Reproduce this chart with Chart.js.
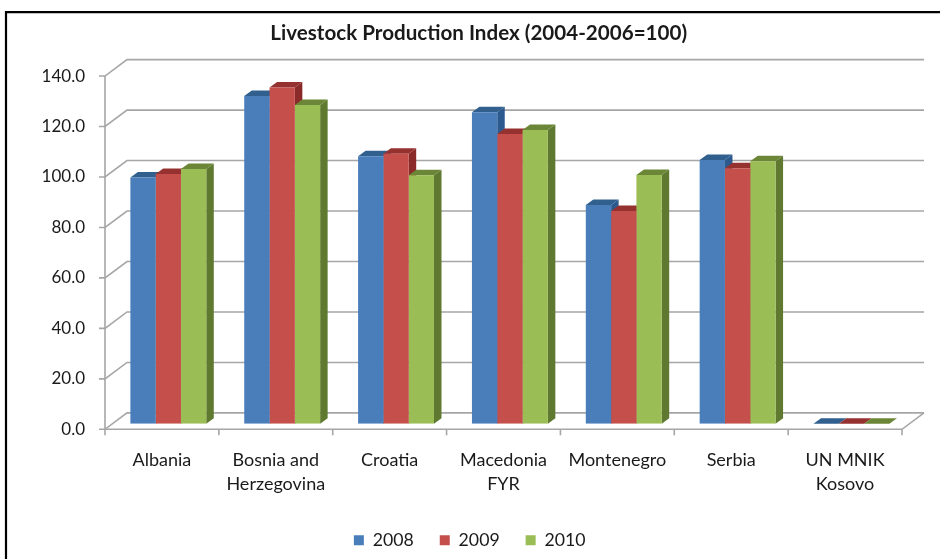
<!DOCTYPE html>
<html><head><meta charset="utf-8">
<style>html,body{margin:0;padding:0;background:#fff}#w{width:940px;height:559px;position:relative}canvas{display:block}</style>
<script src="https://cdn.jsdelivr.net/npm/chart.js@4/dist/chart.umd.min.js"></script>
</head><body><div id="w"><canvas id="c" width="940" height="559"></canvas></div>
<script>
const categories = ["Albania", ["Bosnia and","Herzegovina"], "Croatia", ["Macedonia","FYR"], "Montenegro", "Serbia", ["UN MNIK","Kosovo"]];
const years = ["2008","2009","2010"];
const s2008 = [97.6,129.9,106,123.5,86.7,104.5,0];
const s2009 = [99,133.3,107,114.8,84.3,101.3,0];
const s2010 = [101,126.3,98.5,116.4,98.6,104,0];
const frontColors = ["#4a7ebb","#c44f4b","#9bbd55"];
const sideColors = ["#2c5a8f","#8a2b29","#5f7a30"];
const topColors = ["#31608f","#953230","#6b8636"];
const yMax = 140, yStep = 20;
const FONT = "Lato, Carlito, Calibri, sans-serif";
const TXT = "#1a1a1a", AXIS = "#a6a6a6";
// depth geometry in pixels
const BAR_DX = 7.5, BAR_DY = 5.5, FRONT_DX = 6.4, FRONT_DY = 5.5, WALL_DX = 22, WALL_DY = 16.4;

const scene = {
  id: "scene",
  afterLayout(ch){
    // the plot sits off-centre, title and legend are centred on the picture's frame
    ch.titleBlock.left += 24.5; ch.titleBlock.right += 24.5;
    ch.legend.left += 15.5; ch.legend.right += 15.5;
  },
  beforeDatasetsDraw(ch){
    const g = ch.ctx, xs = ch.scales.x, ys = ch.scales.y;
    g.save();
    // picture frame
    g.strokeStyle = "#000"; g.lineWidth = 2.2;
    g.beginPath(); g.moveTo(6,559); g.lineTo(6,12.2); g.lineTo(940,12.2); g.stroke();
    // walls
    const x0 = xs.left - FRONT_DX, x1 = xs.right - FRONT_DX;
    g.strokeStyle = AXIS; g.lineWidth = 1.6;
    ys.ticks.forEach(t => {
      const y = ys.getPixelForValue(t.value) + FRONT_DY;
      g.beginPath();
      g.moveTo(x0 - 6, y); g.lineTo(x0, y);
      g.lineTo(x0 + WALL_DX, y - WALL_DY); g.lineTo(x1 + WALL_DX, y - WALL_DY);
      g.stroke();
    });
    const yb = ys.getPixelForValue(0) + FRONT_DY, yt = ys.getPixelForValue(yMax) + FRONT_DY;
    g.beginPath(); g.moveTo(x0, yt); g.lineTo(x0, yb); g.lineTo(x1, yb);
    g.lineTo(x1 + WALL_DX, yb - WALL_DY); g.stroke();
    for (let i = 0; i <= categories.length; i++) {
      const x = x0 + (x1 - x0) * i / categories.length;
      g.beginPath(); g.moveTo(x, yb); g.lineTo(x, yb + 6); g.stroke();
    }
    // extruded faces, left to right
    categories.forEach((_, i) => {
      ch.data.datasets.forEach((ds, d) => {
        const b = ch.getDatasetMeta(d).data[i];
        const l = b.x - b.width / 2, r = b.x + b.width / 2, t = b.y, bt = b.base;
        g.fillStyle = sideColors[d];
        g.beginPath(); g.moveTo(r, t); g.lineTo(r + BAR_DX, t - BAR_DY);
        g.lineTo(r + BAR_DX, bt - BAR_DY); g.lineTo(r, bt); g.closePath(); g.fill();
        g.fillStyle = topColors[d];
        g.beginPath(); g.moveTo(l, t); g.lineTo(l + BAR_DX, t - BAR_DY);
        g.lineTo(r + BAR_DX, t - BAR_DY); g.lineTo(r, t); g.closePath(); g.fill();
      });
    });
    g.restore();
  }
};

new Chart(document.getElementById("c"), {
  type: "bar",
  data: {
    labels: categories,
    datasets: [s2008, s2009, s2010].map((v, i) => ({
      label: years[i], data: v, backgroundColor: frontColors[i],
      borderWidth: 0, categoryPercentage: 1 / 1.5, barPercentage: 1
    }))
  },
  options: {
    responsive: false, animation: false,
    layout: { padding: { left: 0, right: 31.6, top: 0, bottom: 0 } },
    plugins: {
      tooltip: { enabled: false },
      title: { display: true, text: "Livestock Production Index (2004-2006=100)",
        color: TXT, font: { family: FONT, size: 20.6, weight: "bold" },
        padding: { top: 20.6, bottom: 25.2 } },
      legend: { position: "bottom",
        labels: { boxWidth: 10, boxHeight: 10, padding: 26, color: TXT,
          font: { family: FONT, size: 17.7 } } }
    },
    scales: {
      x: { offset: true, grid: { display: false, drawTicks: false }, border: { display: false },
        ticks: { color: TXT, font: { family: FONT, size: 18, lineHeight: 1.33 }, padding: 24.5,
          maxRotation: 0, autoSkip: false, labelOffset: -FRONT_DX },
        afterFit(s){ s.height = 81.5; } },
      y: { min: 0, max: yMax, grid: { display: false, drawTicks: false }, border: { display: false },
        ticks: { stepSize: yStep, color: TXT, font: { family: FONT, size: 17 }, padding: 26.4,
          labelOffset: FRONT_DY, callback: v => v.toFixed(1) },
        afterFit(s){ s.width = 111.4; } }
    }
  },
  plugins: [scene]
});
</script></body></html>
